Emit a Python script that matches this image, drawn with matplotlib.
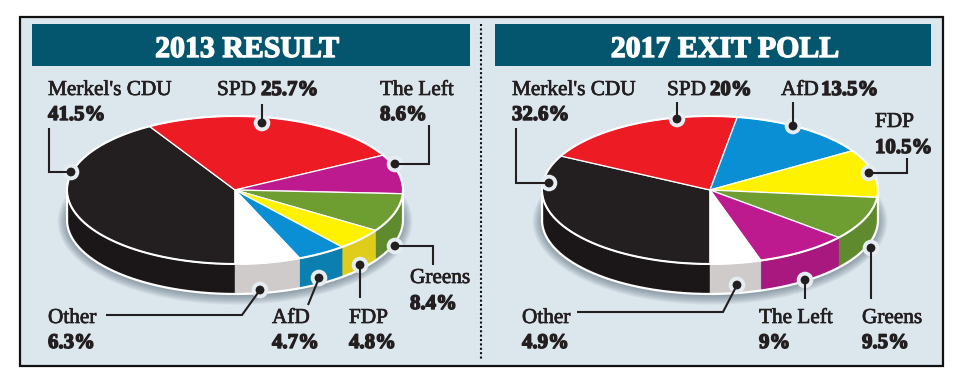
import numpy as np
import matplotlib
matplotlib.use("Agg")
import matplotlib.pyplot as plt
from matplotlib.patches import Rectangle, Circle, Ellipse, Polygon
import matplotlib.patheffects as pe

# ---- data ----
parties_2013 = ["Merkel's CDU", "SPD", "The Left", "Greens", "FDP", "AfD", "Other"]
values_2013 = [41.5, 25.7, 8.6, 8.4, 4.8, 4.7, 6.3]
parties_2017 = ["Merkel's CDU", "SPD", "AfD", "FDP", "Greens", "The Left", "Other"]
values_2017 = [32.6, 20, 13.5, 10.5, 9.5, 9, 4.9]
titles = ["2013 RESULT", "2017 EXIT POLL"]

top_colors = {"Merkel's CDU": "#231F20", "SPD": "#ED1C24", "The Left": "#BC1A8E", "Greens": "#6E9E32",
              "FDP": "#FFF200", "AfD": "#0A8FD5", "Other": "#FFFFFF"}
side_colors = {"Merkel's CDU": "#1B1718", "SPD": "#B5151B", "The Left": "#A8187F", "Greens": "#5F8A2D",
               "FDP": "#E0CC1A", "AfD": "#0A7FB0", "Other": "#CFCBCB"}

INK = "#231F20"
PANEL = "#DCE6ED"
HEAD = "#04556E"
W, H = 962, 375
RX, RY, DEPTH = 168, 74, 30
CY = 190
SERIF = "Liberation Serif"

fig = plt.figure(figsize=(W / 100, H / 100), dpi=100, facecolor="white")


def full_axes(z):
    a = fig.add_axes([0, 0, 1, 1], zorder=z)
    a.patch.set_alpha(0)
    a.set_axis_off()
    return a


bg = full_axes(0)
bg.set_xlim(0, W)
bg.set_ylim(H, 0)
bg.add_patch(Rectangle((20.5, 16.5), 923, 349, fc=PANEL, ec="#111111", lw=1.6))
bg.add_patch(Rectangle((32, 24), 438, 42, fc=HEAD, ec="none"))
bg.add_patch(Rectangle((495, 24), 436, 42, fc=HEAD, ec="none"))
bg.plot([481, 481], [24, 359], color="#111111", lw=1.5, ls=(0, (1, 1.1)))


def draw_pie(cx, parties, values):
    a = full_axes(1)
    colors = [top_colors[p] for p in parties]
    d = DEPTH / RY
    # soft shadow under the disc
    for k in range(12):
        grow = (11 - k) * 0.012
        a.add_patch(Ellipse((0, -d - 0.02), 2 * (0.99 + 0.5 * grow), 2 * (0.98 + 1.1 * grow), fc="#3E5060",
                            ec="none", alpha=0.06, zorder=1))
    # side bands: only the front half (-180..0 deg) of each slice shows
    edges = -90 - np.cumsum([0] + list(values)) * 3.6
    for p, t0, t1 in zip(parties, edges[:-1], edges[1:]):
        for shift in (0, 360):
            lo, hi = max(t1 + shift, -180), min(t0 + shift, 0)
            if hi <= lo:
                continue
            th = np.radians(np.linspace(lo, hi, 60))
            xs, ys = np.cos(th), np.sin(th)
            poly = np.r_[np.c_[xs, ys], np.c_[xs[::-1], ys[::-1] - d]]
            a.add_patch(Polygon(poly, fc=side_colors[p], ec=side_colors[p], lw=0.3, zorder=2))
    # rim of the side
    th = np.radians(np.linspace(-180, 0, 200))
    a.plot(np.r_[-1, np.cos(th), 1], np.r_[0, np.sin(th) - d, 0], color="white", lw=1.6, zorder=3,
           solid_capstyle="round")
    wedges, _ = a.pie(values, colors=colors, startangle=-90, counterclock=False, radius=1,
                      wedgeprops=dict(edgecolor="white", linewidth=0.9))
    for w in wedges:
        w.set_zorder(4)
    th = np.radians(np.linspace(0, 360, 400))
    a.plot(np.cos(th), np.sin(th), color="white", lw=1.5, zorder=5)
    a.set_aspect("auto")
    a.set_xlim((0 - cx) / RX, (W - cx) / RX)
    a.set_ylim((CY - H) / RY, CY / RY)
    a.set_axis_off()


draw_pie(235, parties_2013, values_2013)
draw_pie(710, parties_2017, values_2017)

ov = full_axes(3)
ov.set_xlim(0, W)
ov.set_ylim(H, 0)

# annotation layout: dot first, then the leader's path
leaders = [
    [(71, 172), (49, 172), (49, 128)],
    [(262, 123), (262, 104)],
    [(395, 164), (429, 164), (429, 125)],
    [(395, 246), (433, 246), (433, 265)],
    [(360, 265), (360, 298)],
    [(319, 278), (308, 305)],
    [(260, 290), (242, 315), (106, 315)],
    [(549, 183), (516, 183), (516, 128)],
    [(677, 119), (677, 102)],
    [(793, 126), (793, 102)],
    [(869, 173), (907, 173), (907, 158)],
    [(871, 248), (871, 299)],
    [(805, 280), (805, 299)],
    [(737, 285), (723, 312), (577, 312)],
]
for path in leaders:
    ov.add_patch(Circle(path[0], 8.3, fc="#E6EDF2", ec="none", zorder=2))
for path in leaders:
    xs, ys = zip(*path)
    ov.plot(xs, ys, color=INK, lw=1.5, zorder=3, solid_joinstyle="miter", solid_capstyle="butt")
    ov.add_patch(Circle(path[0], 4.4, fc=INK, ec="none", zorder=4))


def name(x, y, s):
    ov.text(x, y, s, family=SERIF, fontsize=15.3, color=INK, va="baseline", ha="left", zorder=5,
            path_effects=[pe.withStroke(linewidth=0.5, foreground=INK)])


def pct(x, y, s):
    ov.text(x, y, s, family=SERIF, fontsize=15, fontweight="bold", color=INK, va="baseline", ha="left", zorder=5,
            path_effects=[pe.withStroke(linewidth=1.0, foreground=INK)])


def fmt(v):
    return f"{v:g}%"


# labels (text, left x, baselines)
n13 = dict(zip(parties_2013, values_2013))
n17 = dict(zip(parties_2017, values_2017))
for p, x, y1, y2 in [("Merkel's CDU", 48, 95, 120), ("The Left", 380, 95, 120), ("Greens", 410, 283, 309),
                     ("FDP", 349, 323, 348), ("AfD", 272, 323, 348), ("Other", 48, 323, 348)]:
    name(x, y1, p)
    pct(x, y2, fmt(n13[p]))
for p, x, y1, y2 in [("Merkel's CDU", 512, 95, 120), ("FDP", 875, 127, 153), ("Other", 522, 323, 348),
                     ("The Left", 759, 323, 348), ("Greens", 862, 323, 348)]:
    name(x, y1, p)
    pct(x, y2, fmt(n17[p]))
name(217, 95, "SPD")
pct(261, 95, fmt(n13["SPD"]))
name(667, 95, "SPD")
pct(710, 95, fmt(n17["SPD"]))
name(781, 95, "AfD")
pct(821, 95, fmt(n17["AfD"]))

for x, s in zip([247, 725], titles):
    ov.text(x, 57, s, family=SERIF, fontsize=21.5, fontweight="bold", color="white", ha="center", va="baseline",
            zorder=5, path_effects=[pe.withStroke(linewidth=1.0, foreground="white")])

fig.savefig("out.png", dpi=100, facecolor="white")
